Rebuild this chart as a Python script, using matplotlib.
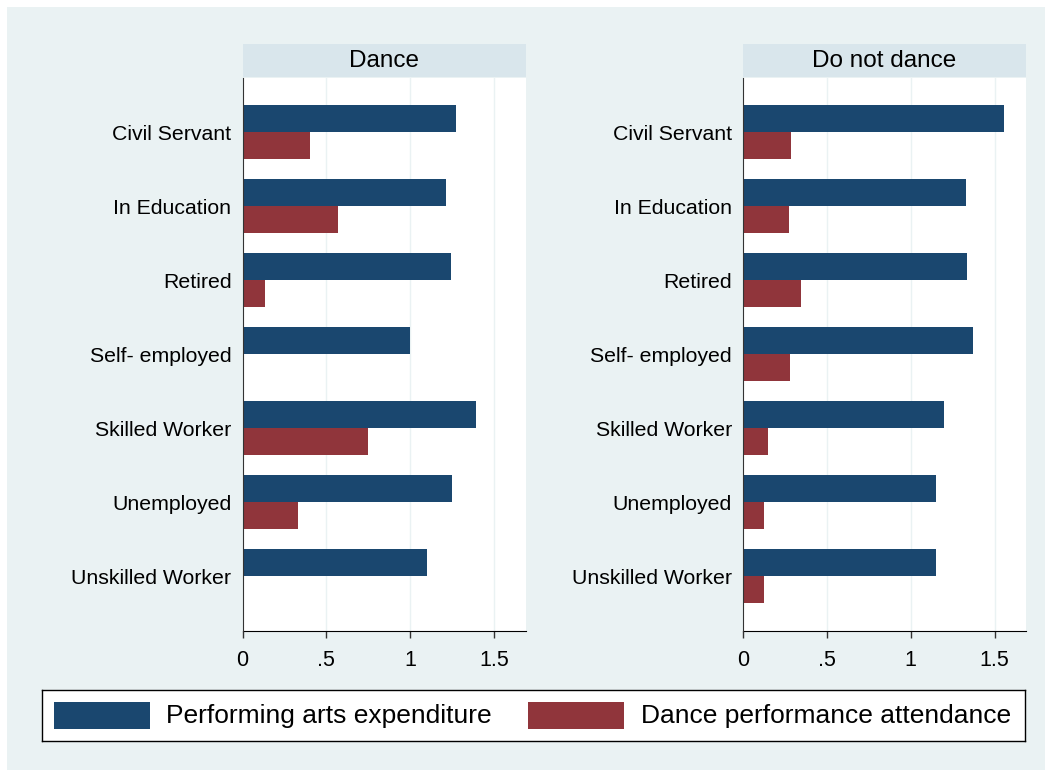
import matplotlib
matplotlib.use("Agg")
import matplotlib.pyplot as plt
import numpy as np
from matplotlib.patches import Rectangle

plt.rcParams['font.family'] = ['Liberation Sans', 'DejaVu Sans']

categories = ["Civil Servant", "In Education", "Retired", "Self- employed",
              "Skilled Worker", "Unemployed", "Unskilled Worker"]
panels = ["Dance", "Do not dance"]
expenditure_dance = [1.27, 1.215, 1.24, 1.0, 1.394, 1.25, 1.10]
attendance_dance = [0.405, 0.57, 0.134, 0.0, 0.75, 0.33, 0.0]
expenditure_nodance = [1.556, 1.327, 1.333, 1.369, 1.20, 1.148, 1.15]
attendance_nodance = [0.289, 0.275, 0.347, 0.281, 0.149, 0.125, 0.125]
xticks = [0, 0.5, 1, 1.5]
xticklabels = ["0", ".5", "1", "1.5"]
legend_labels = ["Performing arts expenditure", "Dance performance attendance"]

BLUE = "#1a476f"
RED = "#90353b"
BG = "#eaf2f3"
STRIP = "#d9e6ec"

W, H = 1050, 773
fig = plt.figure(figsize=(W / 100, H / 100), dpi=100)
fig.patch.set_facecolor("white")
fig.patches.append(Rectangle((7 / W, 1 - 770 / H), (1045 - 7) / W, (770 - 7) / H,
                             transform=fig.transFigure, facecolor=BG, edgecolor="none", zorder=-10))

def px_axes(x0, y0, x1, y1):
    return fig.add_axes([x0 / W, 1 - y1 / H, (x1 - x0) / W, (y1 - y0) / H])

data = [(expenditure_dance, attendance_dance), (expenditure_nodance, attendance_nodance)]
lefts = [242.5, 743]
bh = 0.365
y = np.arange(len(categories))
for k, (title, (exp, att)) in enumerate(zip(panels, data)):
    x0 = lefts[k]
    ax = px_axes(x0, 77.5, x0 + 283, 631)
    ax.set_facecolor("white")
    ax.barh(y - bh / 2, exp, height=bh, color=BLUE, edgecolor="none", zorder=3)
    ax.barh(y + bh / 2, att, height=bh, color=RED, edgecolor="none", zorder=3)
    ax.set_xlim(0, 1.687)
    ax.set_ylim(len(categories) - 1 + 0.743, -0.743)
    ax.set_xticks(xticks)
    ax.set_xticklabels(xticklabels, fontsize=15.5)
    ax.set_yticks(y)
    ax.set_yticklabels(categories, fontsize=15.3)
    ax.tick_params(axis="y", length=0, pad=8)
    ax.tick_params(axis="x", length=5, width=1, color="#333333", pad=9)
    for v in xticks[1:]:
        ax.axvline(v, color=BG, linewidth=1, zorder=1)
    for s in ["top", "right"]:
        ax.spines[s].set_visible(False)
    ax.spines["left"].set_color("#333333")
    ax.spines["bottom"].set_color("black")
    ax.spines["left"].set_zorder(5)
    # strip
    sax = px_axes(x0, 44, x0 + 283, 77)
    sax.set_facecolor(STRIP)
    sax.set_xticks([])
    sax.set_yticks([])
    for s in sax.spines.values():
        s.set_visible(False)
    sax.text(0.5, 0.48, title, ha="center", va="center", fontsize=17.5, transform=sax.transAxes)

# legend
lax = px_axes(42, 690, 1025, 741)
lax.set_xlim(42, 1025)
lax.set_ylim(741, 690)
lax.set_xticks([])
lax.set_yticks([])
lax.set_facecolor("white")
for s in lax.spines.values():
    s.set_color("black")
    s.set_linewidth(1)
lax.add_patch(Rectangle((54, 702), 96, 27, facecolor=BLUE, edgecolor="none"))
lax.text(166, 716, legend_labels[0], fontsize=19, va="center", ha="left")
lax.add_patch(Rectangle((528, 702), 96, 27, facecolor=RED, edgecolor="none"))
lax.text(641, 716, legend_labels[1], fontsize=19, va="center", ha="left")

fig.savefig("out.png", dpi=100, facecolor=fig.get_facecolor())
